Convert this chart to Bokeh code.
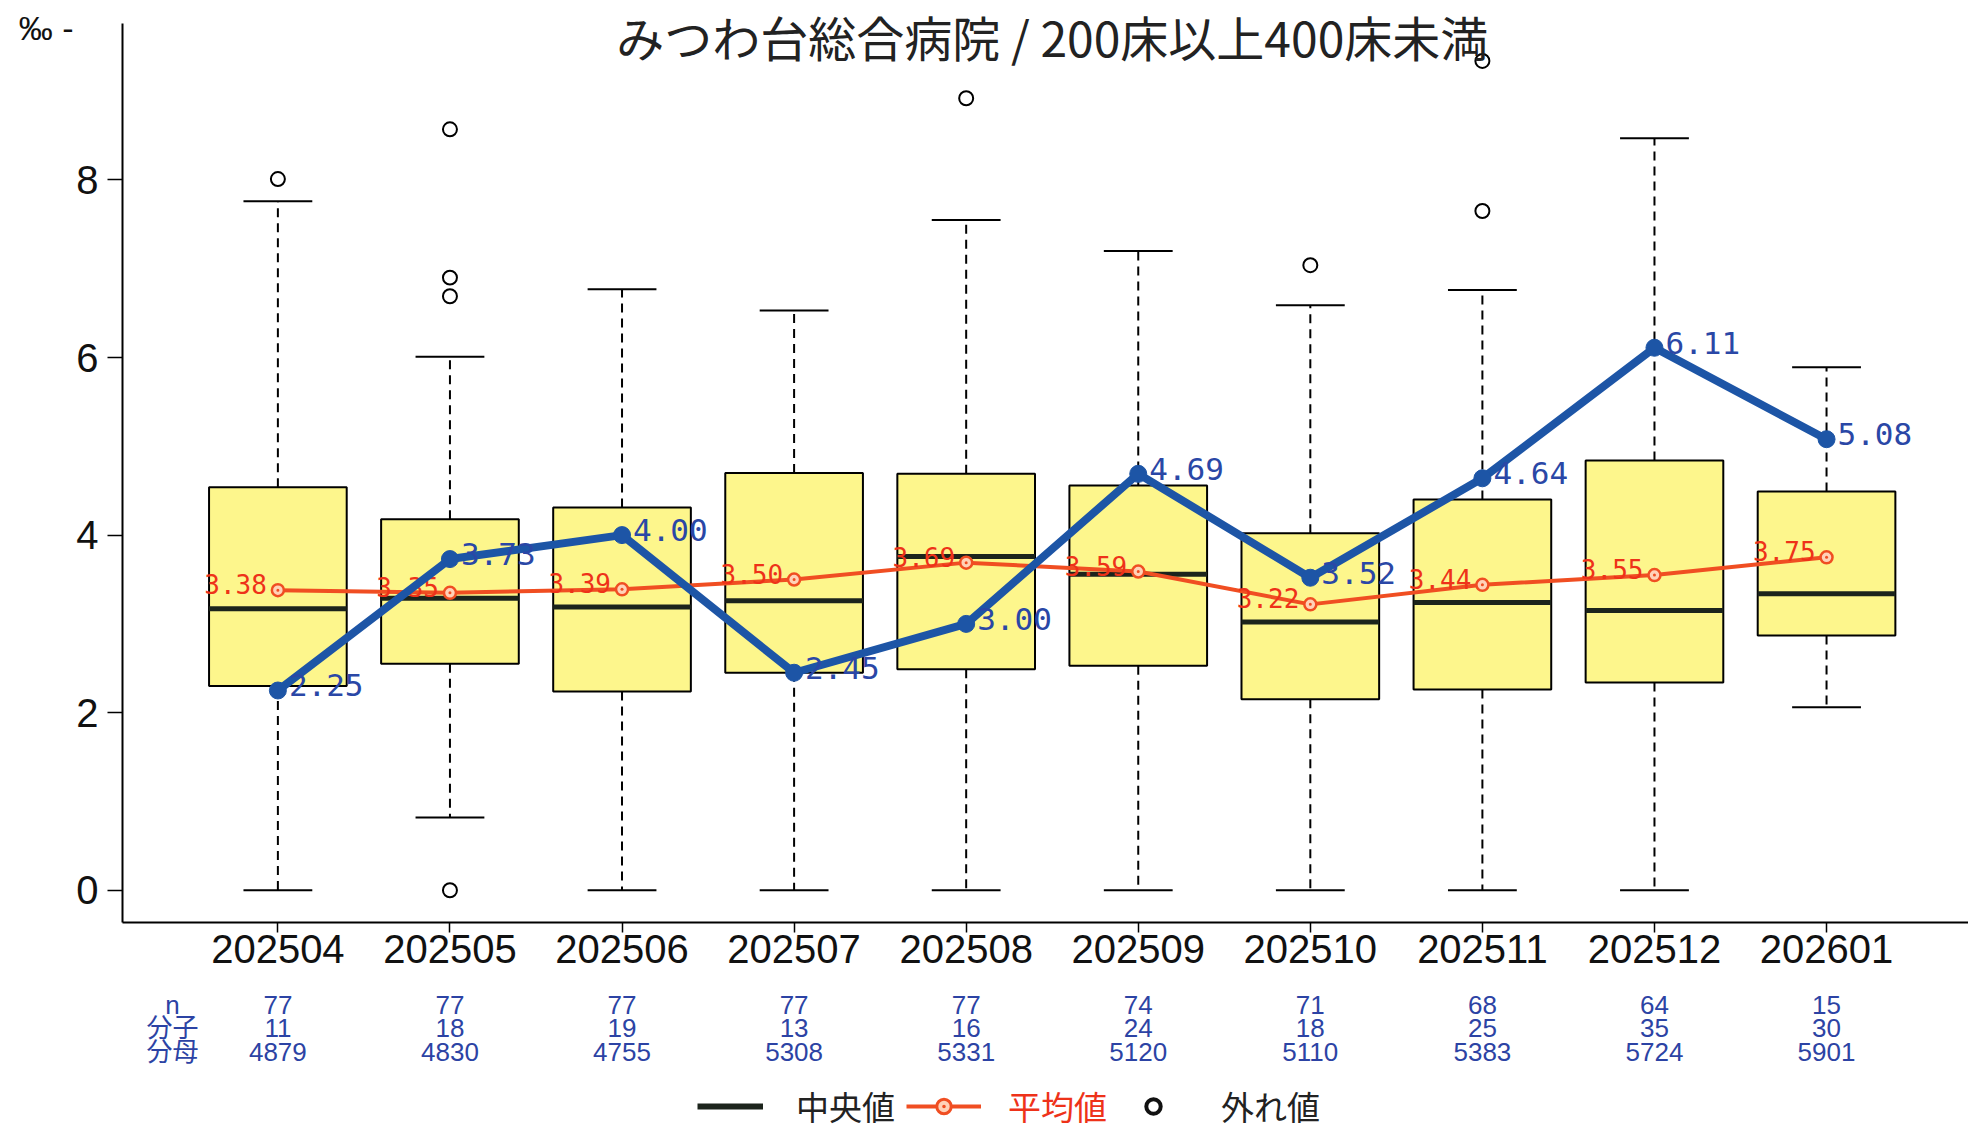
from bokeh.plotting import figure
from bokeh.models import Range1d, FixedTicker, LinearAxis, Label, Legend, LegendItem
from bokeh.layouts import column
from bokeh.embed import file_html
from bokeh.resources import INLINE
from bokeh.core.properties import value

# ---------------- data ----------------
title_text = "みつわ台総合病院 / 200床以上400床未満"
unit_text = "‰ -"
months = ["202504", "202505", "202506", "202507", "202508",
          "202509", "202510", "202511", "202512", "202601"]
q1 = [2.30, 2.55, 2.24, 2.45, 2.49, 2.53, 2.15, 2.26, 2.34, 2.87]
median = [3.17, 3.29, 3.19, 3.26, 3.76, 3.56, 3.02, 3.24, 3.15, 3.34]
q3 = [4.54, 4.18, 4.31, 4.70, 4.69, 4.56, 4.02, 4.40, 4.84, 4.49]
whisker_low = [0.0, 0.82, 0.0, 0.0, 0.0, 0.0, 0.0, 0.0, 0.0, 2.06]
whisker_high = [7.76, 6.01, 6.77, 6.53, 7.55, 7.20, 6.59, 6.76, 8.47, 5.89]
means = [3.38, 3.35, 3.39, 3.50, 3.69, 3.59, 3.22, 3.44, 3.55, 3.75]
hospital = [2.25, 3.73, 4.00, 2.45, 3.00, 4.69, 3.52, 4.64, 6.11, 5.08]
n_counts = [77, 77, 77, 77, 77, 74, 71, 68, 64, 15]
numerators = [11, 18, 19, 13, 16, 24, 18, 25, 35, 30]
denominators = [4879, 4830, 4755, 5308, 5331, 5120, 5110, 5383, 5724, 5901]
outlier_months = ["202504", "202505", "202505", "202505", "202505",
                  "202508", "202510", "202511", "202511"]
outlier_values = [8.01, 8.57, 6.90, 6.69, 0.0, 8.92, 7.04, 9.34, 7.65]
row_headers = ["n", "分子", "分母"]
legend_labels = ["中央値", "平均値", "外れ値"]

# ---------------- styling ----------------
BOX_FILL = "#fdf68c"
RED = "#f04e22"
RED_TEXT = "#ee3219"
BLUE = "#1d55a6"
BLUE_TEXT = "#2a47a6"
ROW_BLUE = "#2c43a4"
MED_COLOR = "#1c241c"
TICK_FONT = "Liberation Sans"
CJK_FONT = "Noto Sans CJK JP"
MONO_FONT = "DejaVu Sans Mono"

xs = [i + 1 for i in range(len(months))]
box_w = 0.8
cap_half = 0.2
ox = [months.index(m) + 1 for m in outlier_months]

W = 1968
H_MAIN = 1080
H_LEG = 1133 - H_MAIN
Y_START, Y_END, Y_AXIS_TOP = -0.363, 10.021, 9.762
HEADER_X = 0.387
UNIT_Y = 9.71

p = figure(width=W, height=H_MAIN, output_backend="svg", toolbar_location=None,
           x_range=Range1d(0.097, 10.825), y_range=Range1d(Y_START, Y_END),
           min_border_left=122, min_border_right=0,
           min_border_top=0, min_border_bottom=H_MAIN - 922)
p.outline_line_color = None
p.xgrid.visible = False
p.ygrid.visible = False

# y axis
ya = p.yaxis[0]
ya.ticker = FixedTicker(ticks=[0, 2, 4, 6, 8])
ya.bounds = (Y_START, Y_AXIS_TOP)
ya.axis_line_width = 2
ya.axis_line_color = "black"
ya.major_tick_out = 15
ya.major_tick_in = 0
ya.major_tick_line_width = 1.5
ya.minor_tick_line_color = None
ya.major_label_standoff = 9
ya.major_label_text_font = TICK_FONT
ya.major_label_text_font_size = "40px"
ya.major_label_text_color = "#111111"

# unit "‰" at the top left
ua = LinearAxis(ticker=FixedTicker(ticks=[UNIT_Y]),
                major_label_overrides={UNIT_Y: unit_text},
                axis_line_color=None, major_tick_line_color=None,
                minor_tick_line_color=None, major_tick_out=0, major_tick_in=0,
                major_label_standoff=0, major_label_text_font=TICK_FONT,
                major_label_text_font_size="34px",
                major_label_text_color="#111111")
p.add_layout(ua, "left")

# x axis (months)
xa = p.xaxis[0]
xa.ticker = FixedTicker(ticks=xs)
xa.major_label_overrides = {x: m for x, m in zip(xs, months)}
xa.axis_line_width = 2
xa.axis_line_color = "black"
xa.major_tick_out = 10
xa.major_tick_in = 0
xa.major_tick_line_width = 1.5
xa.minor_tick_line_color = None
xa.major_label_standoff = 2
xa.major_label_text_font = TICK_FONT
xa.major_label_text_font_size = "40px"
xa.major_label_text_color = "#111111"

# three rows: n / 分子 / 分母
row_values = [n_counts, numerators, denominators]
row_standoffs = [24, -10, -9]
for header, vals, so in zip(row_headers, row_values, row_standoffs):
    labels = {HEADER_X: header}
    for x, v in zip(xs, vals):
        labels[x] = str(v)
    ax = LinearAxis(ticker=FixedTicker(ticks=[HEADER_X] + xs),
                    major_label_overrides=labels,
                    axis_line_color=None, major_tick_line_color=None,
                    minor_tick_line_color=None, major_tick_out=0,
                    major_tick_in=0, major_label_standoff=so,
                    major_label_text_color=ROW_BLUE,
                    major_label_text_font="Liberation Sans, Noto Sans CJK JP",
                    major_label_text_font_size="26px")
    p.add_layout(ax, "below")

# boxes
p.vbar(x=xs, width=box_w, bottom=q1, top=q3, fill_color=BOX_FILL,
       line_color="black", line_width=2)
# whiskers
p.segment(x0=xs, y0=q3, x1=xs, y1=whisker_high, line_color="black",
          line_width=2, line_dash="9 6")
p.segment(x0=xs, y0=q1, x1=xs, y1=whisker_low, line_color="black",
          line_width=2, line_dash="9 6")
p.segment(x0=[x - cap_half for x in xs], y0=whisker_high,
          x1=[x + cap_half for x in xs], y1=whisker_high,
          line_color="black", line_width=2)
p.segment(x0=[x - cap_half for x in xs], y0=whisker_low,
          x1=[x + cap_half for x in xs], y1=whisker_low,
          line_color="black", line_width=2)
# medians
p.segment(x0=[x - box_w / 2 for x in xs], y0=median,
          x1=[x + box_w / 2 for x in xs], y1=median,
          line_color=MED_COLOR, line_width=5)
# outliers
p.scatter(x=ox, y=outlier_values, marker="circle", size=14,
          fill_color=None, line_color="black", line_width=2)

# mean line
p.line(xs, means, line_color=RED, line_width=4)
p.scatter(xs, means, marker="circle_dot", size=12,
          line_color=RED, fill_color="#ffd2b8", line_width=2.5)
p.text(x=xs, y=means, text=[f"{v:.2f}" for v in means],
       text_align="right", text_baseline="alphabetic",
       x_offset=-11, y_offset=-6, text_color=RED_TEXT,
       text_font=value(MONO_FONT), text_font_size="26px")

# hospital line
p.line(xs, hospital, line_color=BLUE, line_width=8)
p.scatter(xs, hospital, marker="circle", size=17, fill_color=BLUE,
          line_color=BLUE)
p.text(x=xs, y=hospital, text=[f"{v:.2f}" for v in hospital],
       text_align="left", text_baseline="alphabetic",
       x_offset=11, y_offset=-5, text_color=BLUE_TEXT,
       text_font=value(MONO_FONT), text_font_size="31px")

# title
p.add_layout(Label(x=sum(xs) / len(xs), y=Y_END, y_offset=0, text=title_text,
                   text_align="center", text_baseline="top",
                   text_font=CJK_FONT, text_font_size="48px",
                   text_color="#222222"))

# ---------------- legend strip ----------------
lf = figure(width=W, height=H_LEG, output_backend="svg", toolbar_location=None,
            x_range=Range1d(0, 1), y_range=Range1d(100, 101),
            x_axis_type=None, y_axis_type=None,
            min_border_left=0, min_border_right=0, min_border_top=0,
            min_border_bottom=0)
lf.outline_line_color = None
lf.xgrid.visible = False
lf.ygrid.visible = False
# legend glyph renderers (data lies outside this strip's range)
lg_med = lf.segment(x0=xs, y0=median, x1=xs, y1=median,
                    line_color=MED_COLOR, line_width=6)
lg_mean_l = lf.line(xs, means, line_color=RED, line_width=4)
lg_mean_p = lf.scatter(xs, means, marker="circle_dot", size=16,
                       line_color=RED, fill_color="#ffd2b8", line_width=3)
lg_out = lf.scatter(ox, outlier_values, marker="circle", size=15,
                    fill_color=None, line_color="#111111", line_width=4)

common = dict(orientation="horizontal", padding=0, margin=0, spacing=0,
              border_line_color=None, background_fill_alpha=0,
              label_text_font=CJK_FONT, label_text_font_size="33px",
              glyph_height=36, label_height=36)
LEG_Y = 3
leg1 = Legend(items=[LegendItem(label=legend_labels[0], renderers=[lg_med])],
              location=(575, LEG_Y), glyph_width=66, label_standoff=33,
              label_text_color="#222222", **common)
leg2 = Legend(items=[LegendItem(label=legend_labels[1],
                                renderers=[lg_mean_l, lg_mean_p])],
              location=(784, LEG_Y), glyph_width=75, label_standoff=27,
              label_text_color=RED_TEXT, **common)
leg3 = Legend(items=[LegendItem(label=legend_labels[2], renderers=[lg_out])],
              location=(1010, LEG_Y), glyph_width=42, label_standoff=47,
              label_text_color="#222222", **common)
for lg in (leg1, leg2, leg3):
    lf.add_layout(lg, "center")

layout = column(p, lf, spacing=0)
open("out.html", "w").write(file_html(layout, INLINE))
